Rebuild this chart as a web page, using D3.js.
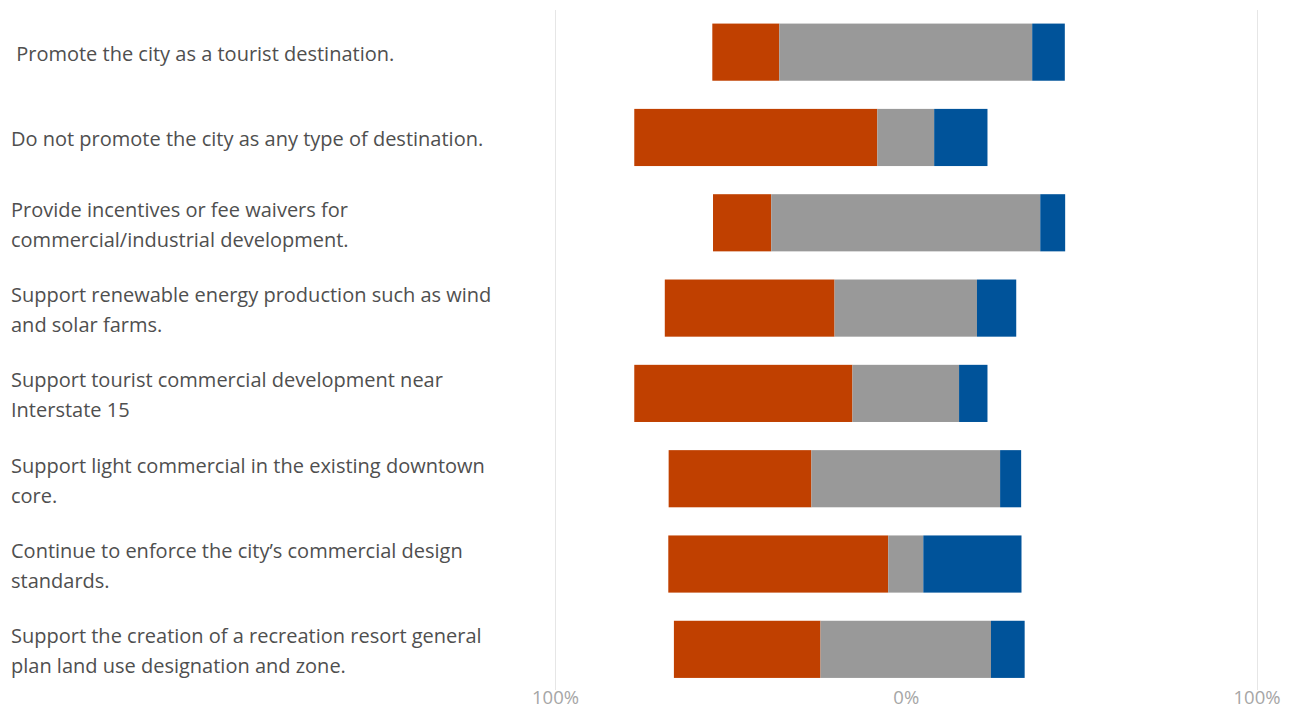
<!DOCTYPE html>
<html>
<head>
<meta charset="utf-8">
<script src="https://cdn.jsdelivr.net/npm/d3@7"></script>
<style>
  html, body { margin: 0; padding: 0; background: #fff; }
  svg { display: block; }
  .lbl { font-family: "Open Sans", "Noto Sans", sans-serif; font-size: 20px; fill: #4f4f4f; white-space: pre; }
  .tick text { font-family: "Open Sans", "Noto Sans", sans-serif; font-size: 18.5px; fill: #a6a6a6; }
</style>
</head>
<body>
<svg id="chart" width="1296" height="713"></svg>
<script>
// Categories (line breaks as in the original labels)
const categories = [
  " Promote the city as a tourist destination.",
  "Do not promote the city as any type of destination.",
  "Provide incentives or fee waivers for\ncommercial/industrial development.",
  "Support renewable energy production such as wind\nand solar farms.",
  "Support tourist commercial development near\nInterstate 15",
  "Support light commercial in the existing downtown\ncore.",
  "Continue to enforce the city\u2019s commercial design\nstandards.",
  "Support the creation of a recreation resort general\nplan land use designation and zone."
];
// Percent values per response group
const oppose  = [19.1, 69.3, 16.6, 48.4, 62.2, 40.7, 62.7, 41.8];
const neutral = [72.1, 16.2, 76.7, 40.6, 30.4, 53.8, 10.0, 48.6];
const support = [ 9.3, 15.2,  7.1, 11.2,  8.1,  6.0, 28.0,  9.6];
const tickValues = [-100, 0, 100];
const seriesNames = ["oppose", "neutral", "support"];
const colors = ["#c04000", "#999999", "#00539a"];

const svg = d3.select("#chart");
const x = d3.scaleLinear().domain([-100, 100]).range([555, 1256.5]);
const y = d3.scaleBand().domain(d3.range(categories.length))
  .range([9.5, 692]).paddingInner(0.33).paddingOuter(0.165);

// gridlines at the ends
svg.append("g").selectAll("line").data([-100, 100]).join("line")
  .attr("x1", d => Math.round(x(d)) + 0.5).attr("x2", d => Math.round(x(d)) + 0.5)
  .attr("y1", 10).attr("y2", 690)
  .attr("stroke", "#e6e6e6").attr("stroke-width", 1);

// build segments: neutral centred on 0
const segs = [];
categories.forEach((c, i) => {
  const vals = [oppose[i], neutral[i], support[i]];
  let start = -neutral[i] / 2 - oppose[i];
  vals.forEach((v, k) => {
    segs.push({ row: i, k, x0: start, x1: start + v });
    start += v;
  });
});

svg.append("g").selectAll("rect").data(segs).join("rect")
  .attr("x", d => x(d.x0))
  .attr("width", d => x(d.x1) - x(d.x0))
  .attr("y", d => y(d.row))
  .attr("height", y.bandwidth())
  .attr("fill", d => colors[d.k]);

// category labels
const lineH = 30;
const lbl = svg.append("g");
categories.forEach((c, i) => {
  const lines = c.split("\n");
  const cy = y(i) + y.bandwidth() / 2;
  const t = lbl.append("text").attr("class", "lbl")
    .attr("x", 11)
    .attr("y", cy - (lines.length - 1) * lineH / 2 + 9);
  lines.forEach((ln, j) => {
    t.append("tspan").attr("x", 11).attr("dy", j === 0 ? 0 : lineH).text(ln);
  });
});

// x axis
const axis = d3.axisBottom(x).tickValues(tickValues)
  .tickFormat(d => Math.abs(d) + "%").tickSize(0).tickPadding(0);
const ag = svg.append("g").attr("transform", "translate(0,691)").call(axis);
ag.select(".domain").remove();
ag.selectAll("text").attr("dy", "0.71em");
</script>
</body>
</html>
